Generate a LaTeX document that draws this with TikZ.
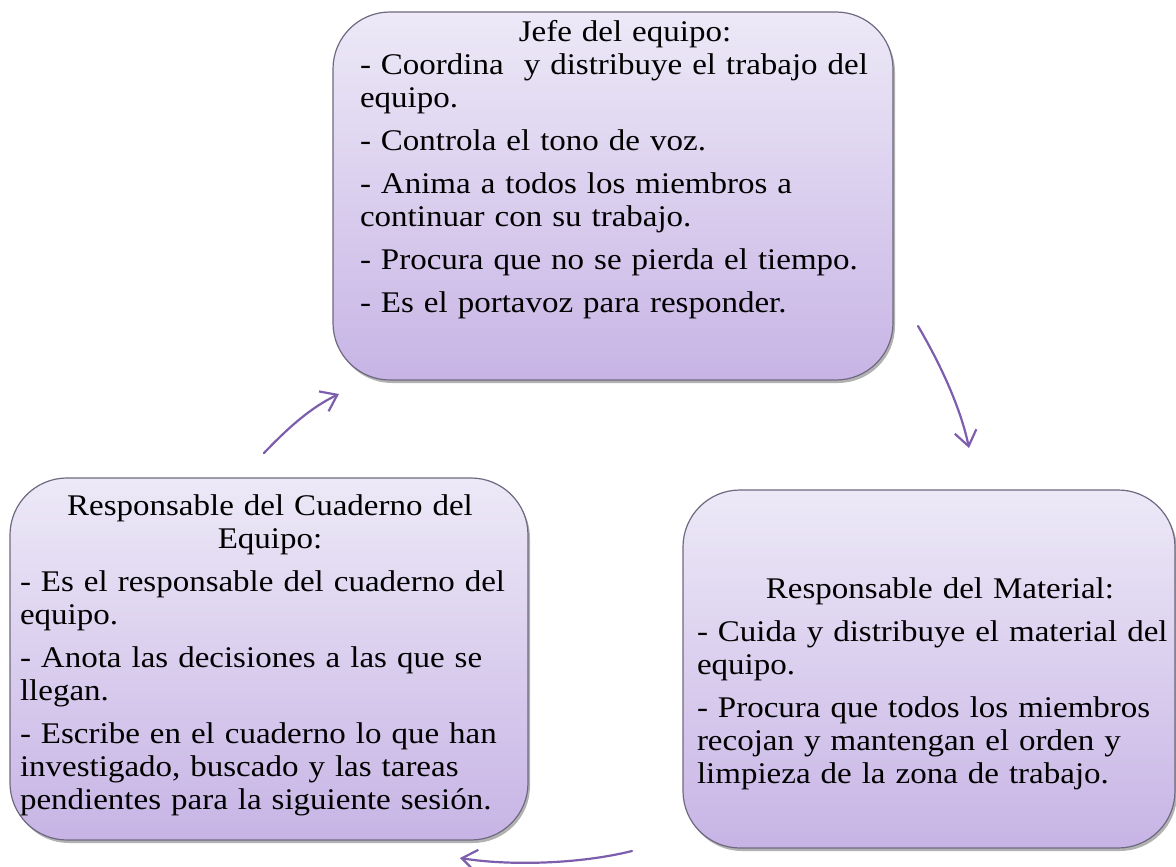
\documentclass[tikz,border=0pt]{standalone}
\usepackage{fontspec}
\setmainfont{Liberation Serif}[FakeStretch=1.10]
\usetikzlibrary{shadows,arrows.meta}
\definecolor{boxtop}{RGB}{237,233,247}
\definecolor{boxbot}{RGB}{199,180,229}
\definecolor{boxline}{RGB}{110,105,128}
\definecolor{arrowc}{RGB}{124,94,172}
\setlength{\parindent}{0pt}
\begin{document}
\begin{tikzpicture}[x=1pt,y=-1pt,
  card/.style={draw=boxline, line width=1.2pt, rounded corners=57pt,
    top color=boxtop, bottom color=boxbot,
    drop shadow={shadow xshift=2pt,shadow yshift=-3pt,opacity=0.3,fill=black},
    inner sep=0pt},
  txt/.style={inner sep=0pt, font=\fontsize{30}{33}\selectfont},
  conn/.style={draw=arrowc, line width=2.2pt, line cap=round,
    -{Straight Barb[length=15pt,width=22pt,line width=2.2pt]}}]
\useasboundingbox (0,0) rectangle (1176,867);

% boxes
\node[card, minimum width=560pt, minimum height=368pt] (top) at (613,196) {};
\node[card, minimum width=518pt, minimum height=362pt] (left) at (269,659) {};
\node[card, minimum width=492pt, minimum height=358pt] (right) at (929,669) {};

% texts
\node[txt, text width=530pt] (toptxt) at (625,170) {%
{\centering Jefe del equipo:\par}%
\raggedright
- Coordina\ \ y distribuye el trabajo del\\
equipo.\par\vspace{10pt}
- Controla el tono de voz.\par\vspace{10pt}
- Anima a todos los miembros a\\
continuar con su trabajo.\par\vspace{10pt}
- Procura que no se pierda el tiempo.\par\vspace{10pt}
- Es el portavoz para responder.\par};

\node[txt, text width=500pt] (lefttxt) at (270,655) {%
{\centering Responsable del Cuaderno del\\ Equipo:\par}\vspace{10pt}%
\raggedright
- Es el responsable del cuaderno del\\
equipo.\par\vspace{10pt}
- Anota las decisiones a las que se\\
llegan.\par\vspace{10pt}
- Escribe en el cuaderno lo que han\\
investigado, buscado y las tareas\\
pendientes para la siguiente sesión.\par};

\node[txt, text width=486pt] (righttxt) at (940,684) {%
{\centering Responsable del Material:\par}\vspace{10pt}%
\raggedright
- Cuida y distribuye el material del\\
equipo.\par\vspace{10pt}
- Procura que todos los miembros\\
recojan y mantengan el orden y\\
limpieza de la zona de trabajo.\par};

% connectors
\coordinate (a1s) at (918,326);
\coordinate (a1e) at (969,448);
\coordinate (a2s) at (632,851);
\coordinate (a2e) at (460,858);
\coordinate (a3s) at (264,453);
\coordinate (a3e) at (339,394);
\draw[conn] (a1s) .. controls (938,360) and (960,405) .. (a1e);
\draw[conn] (a2s) .. controls (580,864) and (510,866) .. (a2e);
\draw[conn] (a3s) .. controls (288,428) and (310,408) .. (a3e);
\end{tikzpicture}
\end{document}
